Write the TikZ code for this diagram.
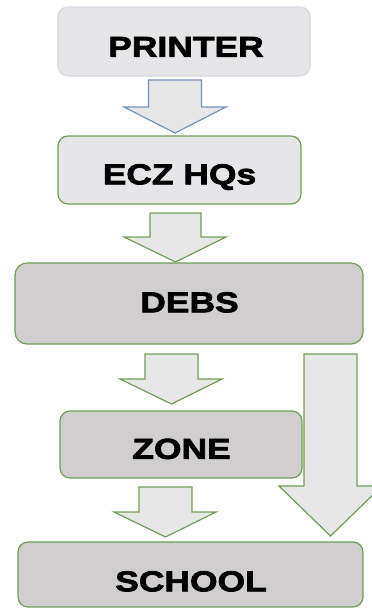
\documentclass[tikz,border=0pt]{standalone}
\usepackage{fontspec}
\newfontfamily\boxfont[FakeStretch=1.23,FakeBold=2.5]{Liberation Sans}
\usetikzlibrary{calc}
\definecolor{gbord}{HTML}{6F9F55}
\definecolor{bbord}{HTML}{7094BE}
\definecolor{pbord}{HTML}{D6D9E0}
\definecolor{lfill}{HTML}{E6E6E8}
\definecolor{dfill}{HTML}{D0CECE}
\definecolor{afill}{HTML}{E7E7E7}
\begin{document}
\begin{tikzpicture}[x=1pt,y=-1pt,
  box/.style={draw=gbord,line width=1.2pt,rounded corners=10pt,inner sep=0pt},
  lbox/.style={box,fill=lfill},
  dbox/.style={box,fill=dfill},
  txt/.style={font=\boxfont\bfseries\fontsize{28.8}{30}\selectfont,text height=20.6pt,text depth=0pt,inner sep=0pt},
  barrow/.style={fill=afill,draw=gbord,line width=1.2pt,line join=miter}]
\useasboundingbox (0,0) rectangle (372,608);
% boxes
\node[lbox,draw=pbord,minimum width=252pt,minimum height=69pt] (printer) at (184,41.5) {};
\node[lbox,minimum width=243pt,minimum height=68pt] (ecz) at (179.5,170) {};
\node[dbox,minimum width=348pt,minimum height=81pt,rounded corners=12pt] (debs) at (189,303.5) {};
\node[dbox,minimum width=242pt,minimum height=67pt] (zone) at (181,444.5) {};
\node[dbox,minimum width=345pt,minimum height=65pt] (school) at (190.5,574.5) {};
% texts
\node[txt] (tprinter) at ($(printer.center)+(2,5)$) {PRINTER};
\node[txt] (tecz) at ($(ecz.center)+(0,4)$) {ECZ HQs};
\node[txt] (tdebs) at ($(debs.center)+(0.5,-1.5)$) {DEBS};
\node[txt] (tzone) at ($(zone.center)+(0.5,4)$) {ZONE};
\node[txt] (tschool) at ($(school.center)+(0.5,6.5)$) {SCHOOL};
% block arrows
\draw[barrow,draw=bbord] (148.5,80) -- (201.5,80) -- (201.5,107) -- (226,107) -- (175,133) -- (124,107) -- (148.5,107) -- cycle;
\draw[barrow] (150,213) -- (201,213) -- (201,237) -- (226,237) -- (175.5,262) -- (124,237) -- (150,237) -- cycle;
\draw[barrow] (145,354) -- (198,354) -- (198,379) -- (222,379) -- (171.5,404) -- (120,379) -- (145,379) -- cycle;
\draw[barrow] (139,487) -- (192,487) -- (192,512) -- (216,512) -- (165.5,537) -- (114,512) -- (139,512) -- cycle;
\begin{scope}
\clip (0,0) rectangle (372,608);
\draw[barrow] (304,354) -- (357,354) -- (357,486) -- (382,486) -- (330.5,536) -- (279,486) -- (304,486) -- cycle;
\end{scope}
\end{tikzpicture}
\end{document}
